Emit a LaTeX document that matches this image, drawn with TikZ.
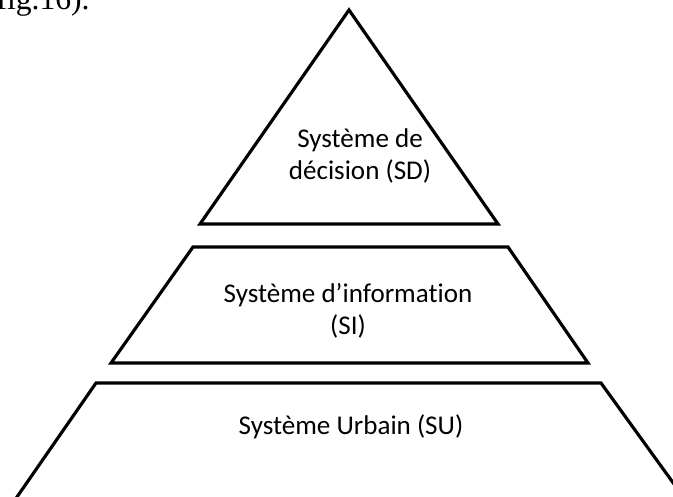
\documentclass[tikz,border=0pt]{standalone}
\usepackage{fontspec}
\setmainfont{Carlito}[Ligatures=NoCommon]
\newfontfamily\bodyfont{Liberation Serif}
\usetikzlibrary{positioning,calc}

\begin{document}
\begin{tikzpicture}[x=0.02cm, y=-0.02cm,
        level/.style={draw, line width=1.8pt, line join=miter},
        level text/.style={align=center, inner sep=0pt, font=\fontsize{15.4}{18}\selectfont}]
    \useasboundingbox (0,0) rectangle (673,497);
    \clip (0,0) rectangle (673,497);

    % end of the running text above the figure
    \node [anchor=base east, inner sep=0pt, font=\bodyfont\fontsize{18}{20}\selectfont] (ref) at (90,10) {(fig.16).};

    % the three levels of the pyramid
    \draw [level] (349,10) -- (498,224) -- (200,224) -- cycle;
    \draw [level] (193,247) -- (508,247) -- (588,363) -- (111,363) -- cycle;
    \draw [level] (96,383) -- (601,383) -- (700,520) -- (1,520) -- cycle;

    \node [level text] (sd) at (360,156) {Système de\\décision (SD)};
    \node [level text] (si) at (348,311) {Système d’information\\(SI)};
    \node [level text, anchor=base] (su) at (351,434) {Système Urbain (SU)};
\end{tikzpicture}
\end{document}
